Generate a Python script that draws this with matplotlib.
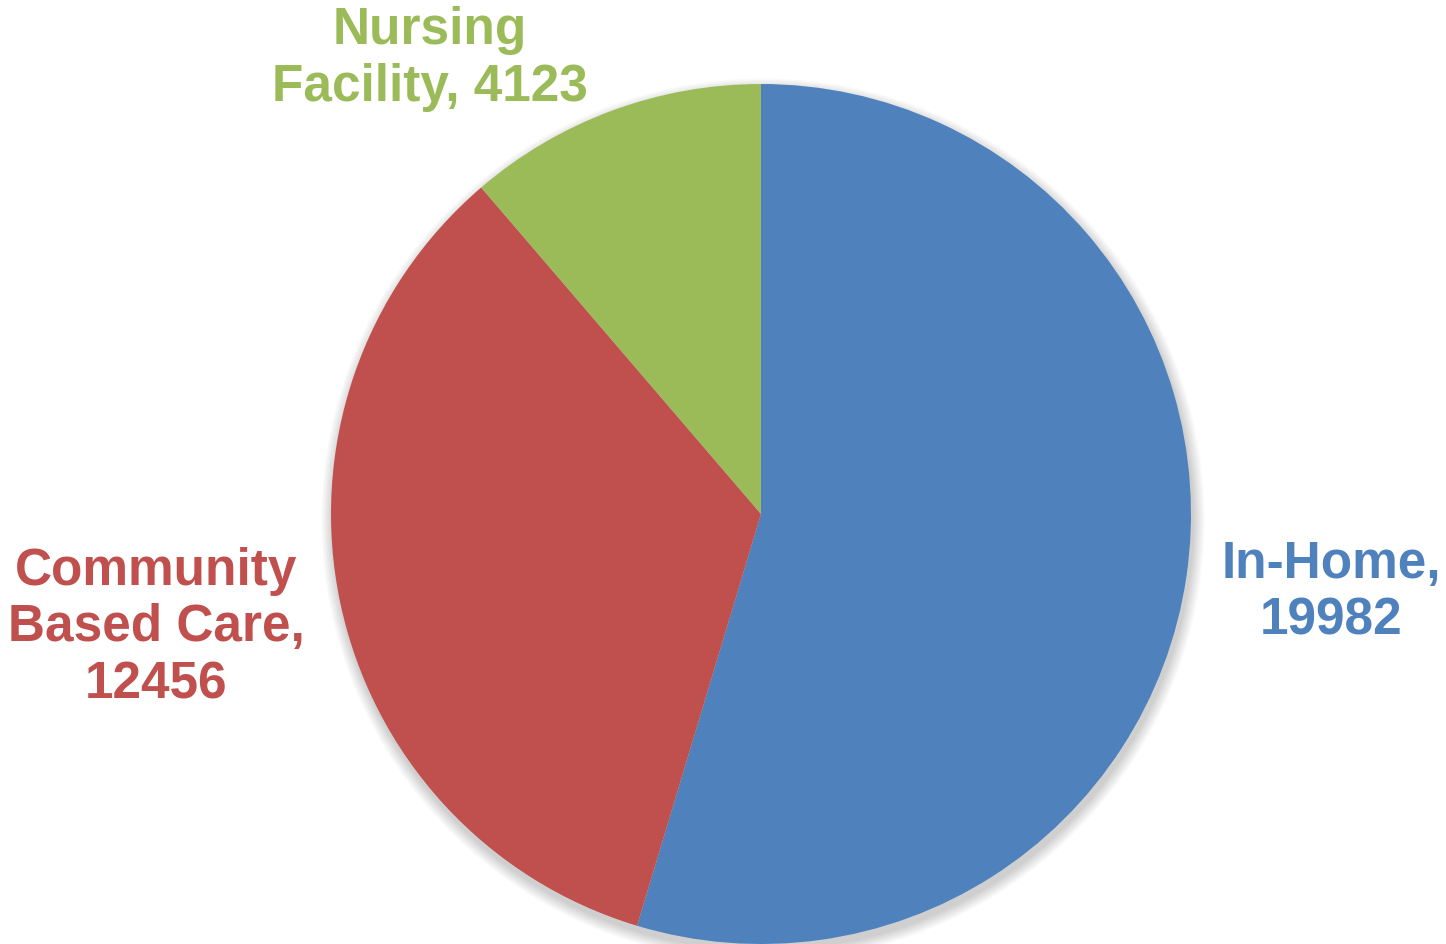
import matplotlib.pyplot as plt
from matplotlib.patches import Circle

plt.rcParams['font.family'] = ['Liberation Sans', 'DejaVu Sans']

# data
categories = ['In-Home', 'Community\nBased Care', 'Nursing\nFacility']
values = [19982, 12456, 4123]
colors = ['#4F81BD', '#C0504D', '#9BBB59']

W, H = 1446, 945
fig = plt.figure(figsize=(W / 100, H / 100), dpi=100)
ax = fig.add_axes([0, 0, 1, 1])

cx, cy, r = 761, H - 515, 430

# soft shadow under the pie
for i in range(8):
    ax.add_patch(Circle((cx + 2, cy - 6), r + 1 + i * 1.5, color='black',
                        alpha=0.025, lw=0, zorder=0))

ax.pie(values, colors=colors, startangle=90, counterclock=False,
       center=(cx, cy), radius=r, frame=True,
       wedgeprops=dict(linewidth=0))
ax.set_xlim(0, W)
ax.set_ylim(0, H)
ax.set_aspect('equal')
ax.axis('off')

labels = ['In-Home,\n19982', 'Community\nBased Care,\n12456', 'Nursing\nFacility, 4123']
label_pos = [(1331, H - 593), (156, H - 628), (430, H - 59)]
for lab, (x, y), c in zip(labels, label_pos, colors):
    ax.text(x, y, lab, color=c, fontsize=37, fontweight='bold',
            ha='center', va='center', multialignment='center', linespacing=1.2)

fig.savefig('out.png', dpi=100)
